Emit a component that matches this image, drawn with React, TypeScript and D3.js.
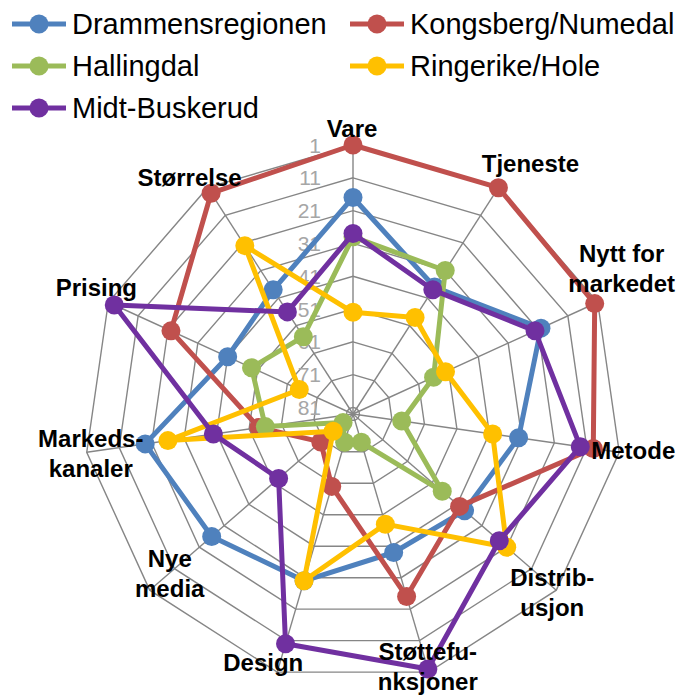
import React, { useEffect, useRef } from 'react';
import * as d3 from 'd3';

// axis categories, clockwise from the top
const categories = [
  'Vare',
  'Tjeneste',
  'Nytt for markedet',
  'Metode',
  'Distribusjon',
  'Støttefunksjoner',
  'Design',
  'Nye media',
  'Markedskanaler',
  'Prising',
  'Størrelse',
];
const categoryLines = [
  ['Vare'],
  ['Tjeneste'],
  ['Nytt for', 'markedet'],
  ['Metode'],
  ['Distrib-', 'usjon'],
  ['Støttefu-', 'nksjoner'],
  ['Design'],
  ['Nye', 'media'],
  ['Markeds-', 'kanaler'],
  ['Prising'],
  ['Størrelse'],
];

const seriesNames = ['Drammensregionen', 'Kongsberg/Numedal', 'Hallingdal', 'Ringerike/Hole', 'Midt-Buskerud'];
const drammensregionen = [17, 37, 20, 32, 38, 39, 30, 26, 19, 41, 38];
const kongsbergNumedal = [1, 1, 2, 9, 40, 25, 60, 70, 54, 22, 3];
const hallingdal = [29, 31, 56, 68, 47, 74, 74, 79, 56, 49, 55];
const ringerikeHole = [52, 48, 52, 40, 21, 48, 30, 75, 26, 65, 22];
const midtBuskerud = [28, 38, 22, 13, 24, 2, 10, 53, 40, 3, 46];

const tickValues = [1, 11, 21, 31, 41, 51, 61, 71, 81];
const axisMin = 1;
const axisMax = 83;

const colors = ['#4F81BD', '#C0504D', '#9BBB59', '#FFC000', '#7030A0'];

const RadarChart = () => {
  const chartRef = useRef<SVGSVGElement>(null);

  useEffect(() => {
    const width = 683;
    const height = 695;
    const cx = 353;
    const cy = 414;
    const R = 269;

    const allSeries = [drammensregionen, kongsbergNumedal, hallingdal, ringerikeHole, midtBuskerud];

    const svg = d3.select(chartRef.current).attr('width', width).attr('height', height);
    svg.selectAll('*').remove();

    // reversed value axis: 1 at the rim, larger values toward the centre
    const r = d3.scaleLinear().domain([axisMin, axisMax]).range([R, 0]);
    const angle = d3
      .scaleLinear()
      .domain([0, categories.length])
      .range([0, 2 * Math.PI]);

    const g = svg.append('g').attr('transform', `translate(${cx},${cy})`);

    const ring = d3
      .lineRadial<number>()
      .angle((_, i) => angle(i))
      .radius((d) => r(d))
      .curve(d3.curveLinearClosed);

    // rings
    g.selectAll('.ring')
      .data(tickValues)
      .enter()
      .append('path')
      .attr('d', (t) => ring(categories.map(() => t)))
      .attr('fill', 'none')
      .attr('stroke', '#868686')
      .attr('stroke-width', 1.4);

    // spokes
    g.selectAll('.spoke')
      .data(categories)
      .enter()
      .append('line')
      .attr('x1', 0)
      .attr('y1', 0)
      .attr('x2', (_, i) => r(axisMin) * Math.sin(angle(i)))
      .attr('y2', (_, i) => -r(axisMin) * Math.cos(angle(i)))
      .attr('stroke', '#868686')
      .attr('stroke-width', 1.4);

    // tick labels
    g.selectAll('.tick')
      .data(tickValues)
      .enter()
      .append('text')
      .attr('x', -32)
      .attr('y', (t) => -r(t))
      .attr('dy', '0.36em')
      .attr('text-anchor', 'end')
      .attr('font-family', 'Liberation Sans, Arial, sans-serif')
      .attr('font-size', 21)
      .attr('fill', '#a6a6a6')
      .text((t) => t);

    // series
    allSeries.forEach((values, s) => {
      g.append('path')
        .attr('d', ring(values))
        .attr('fill', 'none')
        .attr('stroke', colors[s])
        .attr('stroke-width', 5)
        .attr('stroke-linejoin', 'round');
      g.selectAll(`.pt${s}`)
        .data(values)
        .enter()
        .append('circle')
        .attr('cx', (d, i) => r(d) * Math.sin(angle(i)))
        .attr('cy', (d, i) => -r(d) * Math.cos(angle(i)))
        .attr('r', 9.5)
        .attr('fill', colors[s]);
    });

    // category labels, nudged from the rim vertex
    const nudge = [
      [-1, -17],
      [32, -24],
      [24, -34],
      [14, -2],
      [-4, 2],
      [-1, -6],
      [-14, -10],
      [20, -17],
      [4, 1],
      [-12, -15],
      [-18, -10],
    ];
    categoryLines.forEach((lines, i) => {
      const vx = r(axisMin) * Math.sin(angle(i)) + nudge[i][0];
      const vy = -r(axisMin) * Math.cos(angle(i)) + nudge[i][1];
      const t = g
        .append('text')
        .attr('text-anchor', 'middle')
        .attr('font-family', 'Liberation Sans, Arial, sans-serif')
        .attr('font-weight', 'bold')
        .attr('font-size', 24)
        .attr('fill', '#000');
      lines.forEach((line, k) => {
        t.append('tspan')
          .attr('x', vx)
          .attr('y', vy + (k - (lines.length - 1) / 2) * 30)
          .attr('dy', '0.36em')
          .text(line);
      });
    });

    // legend
    const legendPos = [
      [12, 24],
      [350, 24],
      [12, 66],
      [350, 66],
      [12, 108],
    ];
    const legend = svg
      .selectAll('.legend')
      .data(seriesNames)
      .enter()
      .append('g')
      .attr('transform', (_, i) => `translate(${legendPos[i][0]},${legendPos[i][1]})`);
    legend
      .append('line')
      .attr('x1', 0)
      .attr('x2', 54)
      .attr('stroke', (_, i) => colors[i])
      .attr('stroke-width', 5);
    legend
      .append('circle')
      .attr('cx', 27)
      .attr('r', 9.5)
      .attr('fill', (_, i) => colors[i]);
    legend
      .append('text')
      .attr('x', 60)
      .attr('dy', '0.36em')
      .attr('font-family', 'Liberation Sans, Arial, sans-serif')
      .attr('font-size', 29)
      .attr('fill', '#000')
      .text((d) => d);

    return () => {
      d3.select(chartRef.current).selectAll('*').remove();
    };
  }, []);

  return <svg ref={chartRef} style={{ position: 'absolute', left: 0, top: 0 }}></svg>;
};

export default function App() {
  return <RadarChart />;
}
